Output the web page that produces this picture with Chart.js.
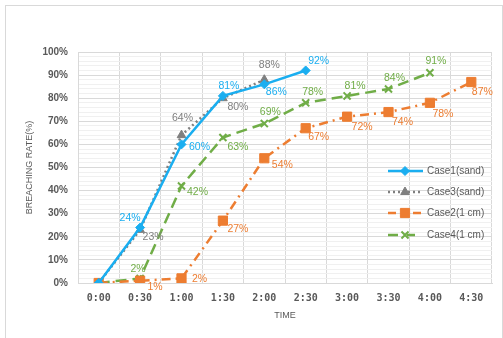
<!DOCTYPE html>
<html>
<head>
<meta charset="utf-8">
<script src="https://cdn.jsdelivr.net/npm/chart.js@4.4.1/dist/chart.umd.min.js"></script>
<style>
  html, body { margin: 0; padding: 0; background: #ffffff; }
  canvas { display: block; }
</style>
</head>
<body>
<canvas id="chart" width="503" height="338"></canvas>
<script>
// Time steps (h:mm) along the x axis
const times = ['0:00', '0:30', '1:00', '1:30', '2:00', '2:30', '3:00', '3:30', '4:00', '4:30'];

// Breaching rate (%) for each case
const case1Sand = [0, 24, 60, 81, 86, 92, null, null, null, null];
const case3Sand = [0, 23, 64, 80, 88, null, null, null, null, null];
const case2Cm   = [0, 1, 2, 27, 54, 67, 72, 74, 78, 87];
const case4Cm   = [0, 2, 42, 63, 69, 78, 81, 84, 91, null];

// Where each value label sits relative to its point (dx, dy in px); null = no label
const labelPlacement = {
  0: [null, [-10, -9], [18, 3], [6, -10], [12, 8], [13, -9]],
  1: [null, [13, 7], [1, -17], [15, 9], [5, -15]],
  2: [null, [15, 6], [18, 1], [15, 8], [18, 7], [13, 9], [15, 10], [14, 10], [13, 11], [11, 10]],
  3: [null, [-2, -9], [16, 6], [15, 10], [6, -12], [7, -11], [8, -10], [6, -11], [6, -12]]
};

const BLUE = '#1aaef0', GRAY = '#7f7f7f', ORANGE = '#ed7d31', GREEN = '#70ad47';
const TEXT = '#595959';
const LABEL_FONT = '10.5px "Liberation Sans", Arial, sans-serif';

const valueLabels = {
  id: 'valueLabels',
  afterDatasetsDraw(chart) {
    const ctx = chart.ctx;
    ctx.save();
    ctx.font = LABEL_FONT;
    ctx.textAlign = 'center';
    ctx.textBaseline = 'middle';
    chart.data.datasets.forEach((ds, di) => {
      const meta = chart.getDatasetMeta(di);
      const place = labelPlacement[di] || [];
      ds.data.forEach((v, i) => {
        if (v === null || !place[i]) return;
        const pt = meta.data[i];
        ctx.fillStyle = ds.labelColor;
        ctx.fillText(v + '%', pt.x + place[i][0], pt.y + place[i][1]);
      });
    });
    ctx.restore();
  }
};

// Frame, axis titles and the legend box drawn over the plot
const decorations = {
  id: 'decorations',
  beforeDraw(chart) {
    const ctx = chart.ctx;
    ctx.save();
    ctx.fillStyle = '#ffffff';
    ctx.fillRect(0, 0, chart.width, chart.height);
    ctx.strokeStyle = '#d9d9d9';
    ctx.lineWidth = 1;
    ctx.strokeRect(5.5, 5.5, 497, 340);
    ctx.restore();
  },
  afterDraw(chart) {
    const ctx = chart.ctx;
    const area = chart.chartArea;
    ctx.save();
    ctx.fillStyle = TEXT;
    ctx.font = '9px "Liberation Sans", Arial, sans-serif';
    ctx.textAlign = 'center';
    ctx.textBaseline = 'middle';
    ctx.fillText('TIME', (area.left + area.right) / 2, 316);
    ctx.translate(30, (area.top + area.bottom) / 2);
    ctx.rotate(-Math.PI / 2);
    ctx.fillText('BREACHING RATE(%)', 0, 0);
    ctx.restore();

    // legend
    const x0 = 388, x1 = 423, xm = 405, tx = 427;
    const rows = [171, 192, 213, 235];
    ctx.save();
    ctx.font = '10px "Liberation Sans", Arial, sans-serif';
    ctx.textBaseline = 'middle';
    chart.data.datasets.forEach((ds, i) => {
      const y = rows[i];
      ctx.save();
      ctx.strokeStyle = ds.borderColor;
      ctx.lineWidth = ds.borderWidth;
      ctx.setLineDash(ds.legendDash);
      ctx.beginPath();
      ctx.moveTo(x0, y);
      ctx.lineTo(x1, y);
      ctx.stroke();
      ctx.restore();
      ctx.save();
      ctx.fillStyle = ds.pointBackgroundColor;
      ctx.strokeStyle = ds.borderColor;
      ctx.lineWidth = ds.pointBorderWidth || 1;
      ctx.beginPath();
      Chart.helpers.drawPoint(ctx, {
        pointStyle: ds.pointStyle,
        radius: ds.pointRadius,
        rotation: 0,
        borderWidth: ds.pointBorderWidth || 1
      }, xm, y);
      ctx.restore();
      ctx.fillStyle = TEXT;
      ctx.fillText(ds.label, tx, y);
    });
    ctx.restore();
  }
};

new Chart(document.getElementById('chart'), {
  type: 'line',
  data: {
    labels: times,
    datasets: [
      {
        label: 'Case1(sand)', data: case1Sand,
        borderColor: BLUE, backgroundColor: BLUE, pointBackgroundColor: BLUE, labelColor: BLUE,
        borderWidth: 2.5, pointStyle: 'rectRot', pointRadius: 4.5, pointBorderWidth: 1,
        legendDash: []
      },
      {
        label: 'Case3(sand)', data: case3Sand,
        borderColor: GRAY, backgroundColor: GRAY, pointBackgroundColor: GRAY, labelColor: GRAY,
        borderWidth: 2.5, borderDash: [2, 3], pointStyle: 'triangle', pointRadius: 5, pointBorderWidth: 1,
        legendDash: [2, 3]
      },
      {
        label: 'Case2(1 cm)', data: case2Cm,
        borderColor: ORANGE, backgroundColor: ORANGE, pointBackgroundColor: ORANGE, labelColor: ORANGE,
        borderWidth: 2.5, borderDash: [9, 5, 2, 5], pointStyle: 'rect', pointRadius: 6.5, pointBorderWidth: 1,
        legendDash: [8, 17, 8, 100]
      },
      {
        label: 'Case4(1 cm)', data: case4Cm,
        borderColor: GREEN, backgroundColor: GREEN, pointBackgroundColor: GREEN, labelColor: GREEN,
        borderWidth: 2.5, borderDash: [11, 6], pointStyle: 'crossRot', pointRadius: 5, pointBorderWidth: 2,
        legendDash: [10, 9, 8, 100]
      }
    ]
  },
  options: {
    responsive: false,
    animation: false,
    layout: { padding: { left: 0, top: 52, right: 11, bottom: 0 } },
    elements: { line: { tension: 0 } },
    plugins: {
      legend: { display: false },
      tooltip: { enabled: false }
    },
    scales: {
      x: {
        type: 'category',
        offset: true,
        grid: { offset: true, color: '#d9d9d9', drawTicks: false },
        border: { color: '#d9d9d9' },
        ticks: {
          padding: 9,
          maxRotation: 0,
          color: TEXT,
          font: { family: '"DejaVu Sans Mono", monospace', size: 10, weight: 'bold' }
        },
        afterFit(scale) { scale.height = 55; }
      },
      y: {
        min: 0, max: 100,
        grid: {
          drawTicks: false,
          color: (c) => (c.tick && c.tick.value % 10 === 0) ? '#d9d9d9' : '#f0f0f0'
        },
        border: { color: '#d9d9d9' },
        ticks: {
          stepSize: 2,
          autoSkip: false,
          padding: 10,
          color: TEXT,
          font: { family: '"Liberation Sans", Arial, sans-serif', size: 10, weight: 'bold' },
          callback: (v) => (v % 10 === 0 ? v + '%' : '')
        },
        afterFit(scale) { scale.width = 78; }
      }
    }
  },
  plugins: [decorations, valueLabels]
});
</script>
</body>
</html>
